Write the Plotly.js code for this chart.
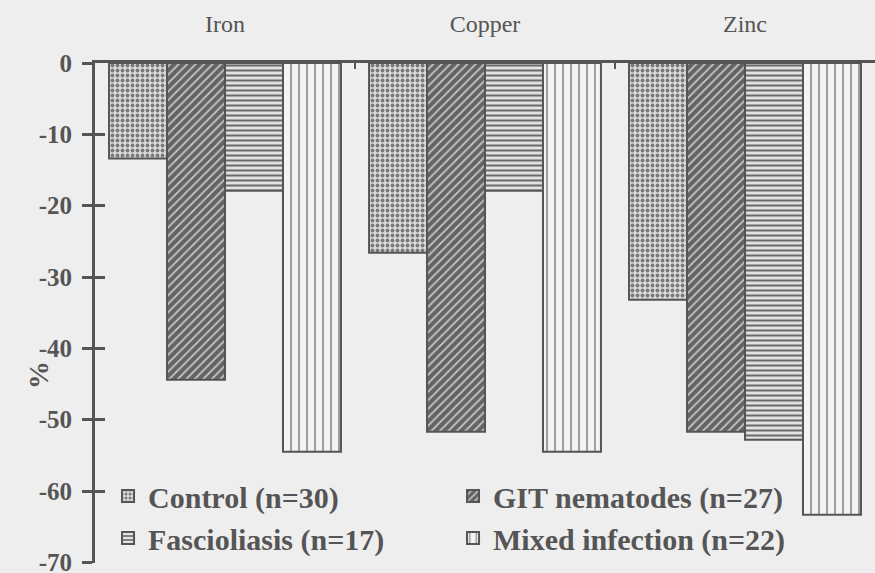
<!DOCTYPE html>
<html>
<head>
<meta charset="utf-8">
<script src="https://cdn.plot.ly/plotly-3.0.1.min.js"></script>
<style>
  html, body { margin: 0; padding: 0; background: #eeeeee; }
  #chart { width: 875px; height: 573px; }
</style>
</head>
<body>
<div id="chart"></div>
<script>
// Data
var minerals = ["Iron", "Copper", "Zinc"];
var seriesNames = ["Control (n=30)", "GIT nematodes (n=27)", "Fascioliasis (n=17)", "Mixed infection (n=22)"];
var controlVals = [-13.4, -26.6, -33.2];
var gitVals = [-44.4, -51.7, -51.7];
var fasciolVals = [-17.9, -17.9, -52.8];
var mixedVals = [-54.5, -54.5, -63.3];
var yTicks = [0, -10, -20, -30, -40, -50, -60, -70];

var seriesValues = [controlVals, gitVals, fasciolVals, mixedVals];
var legendIds = ["legend", "legend2", "legend", "legend2"];
var patterns = [
  {shape: ".", fgcolor: "#7a7a7a", bgcolor: "#dadada", size: 5, solidity: 0.45},
  {shape: "/", fgcolor: "#c8c8c8", bgcolor: "#646464", size: 6, solidity: 0.3},
  {shape: "-", fgcolor: "#6a6a6a", bgcolor: "#e2e2e2", size: 5, solidity: 0.4},
  {shape: "|", fgcolor: "#8a8a8a", bgcolor: "#f3f3f3", size: 8, solidity: 0.2}
];

var traces = seriesNames.map(function (name, i) {
  return {
    type: "bar",
    name: name,
    legend: legendIds[i],
    x: minerals,
    y: seriesValues[i],
    marker: {
      color: patterns[i].bgcolor,
      pattern: patterns[i],
      line: {color: "#555555", width: 2}
    },
    hoverinfo: "x+y+name"
  };
});

// invisible trace on yaxis2 to get crossing ticks
traces.push({
  type: "scatter", x: minerals, y: [0, 0, 0], yaxis: "y2",
  mode: "markers", marker: {opacity: 0}, showlegend: false, hoverinfo: "skip"
});

var legendCommon = {
  orientation: "v",
  xanchor: "left",
  yanchor: "top",
  bgcolor: "rgba(0,0,0,0)",
  font: {size: 30, color: "#555555", weight: "bold"},
  traceorder: "normal",
  tracegroupgap: 0
};

var yRange = [-70.08, 0];

var layout = {
  width: 875,
  height: 573,
  paper_bgcolor: "#eeeeee",
  plot_bgcolor: "#eeeeee",
  margin: {l: 95, r: 0, t: 63, b: 10},
  barmode: "group",
  bargap: 0.108,
  bargroupgap: 0,
  font: {family: "Liberation Serif, Times New Roman, serif", color: "#555555"},
  xaxis: {
    type: "category",
    side: "top",
    showline: true,
    linecolor: "#555555",
    linewidth: 3,
    ticks: "inside",
    tickson: "boundaries",
    ticklen: 6,
    tickwidth: 2,
    tickcolor: "#555555",
    ticklabelstandoff: 18,
    tickfont: {size: 24, color: "#555555"},
    showgrid: false,
    zeroline: false,
    fixedrange: true
  },
  yaxis: {
    range: yRange,
    tickmode: "array",
    tickvals: yTicks,
    ticktext: yTicks.map(String),
    showline: true,
    linecolor: "#555555",
    linewidth: 3,
    ticks: "outside",
    ticklen: 10,
    tickwidth: 3,
    tickcolor: "#555555",
    ticklabelstandoff: 5,
    ticklabeloverflow: "allow",
    tickfont: {size: 25, color: "#555555", weight: "bold"},
    showgrid: false,
    zeroline: false,
    automargin: false,
    fixedrange: true
  },
  yaxis2: {
    range: yRange,
    overlaying: "y",
    side: "left",
    tickmode: "array",
    tickvals: yTicks,
    showticklabels: false,
    ticks: "inside",
    ticklen: 10,
    tickwidth: 3,
    tickcolor: "#555555",
    showline: false,
    showgrid: false,
    zeroline: false,
    fixedrange: true
  },
  legend: Object.assign({x: 0.0167, y: 0.186}, legendCommon),
  legend2: Object.assign({x: 0.459, y: 0.186}, legendCommon),
  annotations: [{
    text: "%",
    xref: "paper", yref: "paper",
    x: -0.073, y: 0.376,
    xanchor: "center", yanchor: "middle",
    textangle: -90,
    showarrow: false,
    font: {size: 28, color: "#555555", weight: "bold"}
  }],
  showlegend: true
};

Plotly.newPlot("chart", traces, layout, {displayModeBar: false, staticPlot: true});
</script>
</body>
</html>
